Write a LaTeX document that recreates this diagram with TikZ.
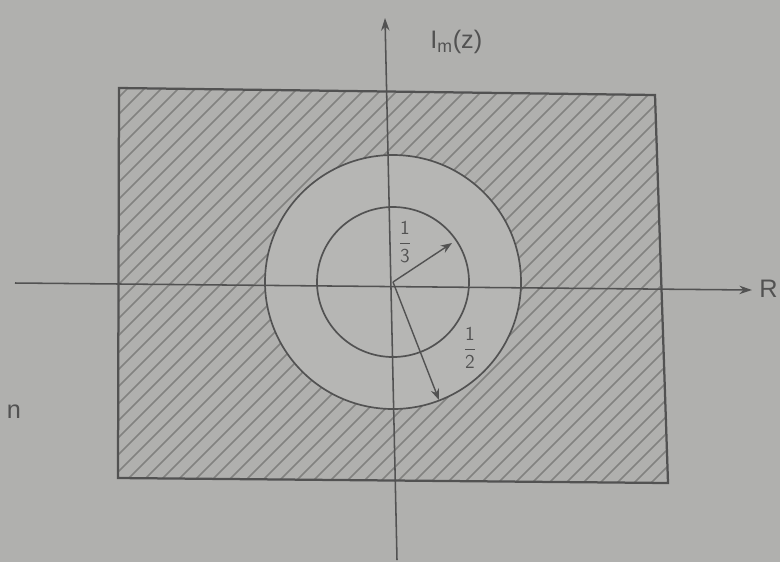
\documentclass[tikz,border=0pt]{standalone}
\usepackage{fontspec}
\setmainfont{Liberation Sans}
\usetikzlibrary{arrows.meta}
\definecolor{bg}{RGB}{176,176,174}
\definecolor{ann}{RGB}{182,182,180}
\definecolor{ink}{RGB}{82,82,82}
\definecolor{hatch}{RGB}{130,130,128}
\begin{document}
\begin{tikzpicture}[x=0.025cm,y=-0.025cm,
  axis/.style={draw=ink,line width=1.1pt,-{Stealth[length=9pt,width=6pt]}},
  radius arrow/.style={draw=ink,line width=1pt,-{Stealth[length=8pt,width=6pt]}},
  circ/.style={draw=ink,line width=1.2pt},
  lbl/.style={text=ink,font=\fontsize{14}{16}\selectfont,inner sep=0pt},
  biglbl/.style={text=ink,font=\fontsize{18}{20}\selectfont,inner sep=0pt}]
\fill[bg] (0,0) rectangle (780,562);
\useasboundingbox (0,0) rectangle (780,562);
% hatched rectangle
\coordinate (TL) at (119,88);
\coordinate (TR) at (655,95);
\coordinate (BR) at (668,483);
\coordinate (BL) at (118,478);
\begin{scope}
  \clip (TL) -- (TR) -- (BR) -- (BL) -- cycle;
  \foreach \k in {-420,-403,...,700}
    \draw[hatch,line width=1.1pt] (\k,500) -- (\k+430,70);
\end{scope}
\draw[ink,line width=1.6pt] (TL) -- (TR) -- (BR) -- (BL) -- cycle;
% circles
\coordinate (O) at (393,282);
\fill[ann] (O) circle[x radius=128,y radius=127];
\draw[circ] (O) circle[x radius=128,y radius=127];
\draw[circ] (O) circle[x radius=76,y radius=75];
% axes
\coordinate (xl) at (15,283);
\coordinate (xr) at (752,290);
\coordinate (yb) at (397,560);
\coordinate (yt) at (385,18);
\draw[axis] (xl) -- (xr);
\draw[axis] (yb) -- (yt);
\node[biglbl,anchor=east] (R) at (778,289) {R};
\node[biglbl,anchor=west] (Im) at (430,42) {I\textsubscript{m}(z)};
\node[biglbl] (n) at (14,412) {n};
% radii
\coordinate (P1) at (452,243);
\coordinate (P2) at (439,400);
\draw[radius arrow] (O) -- (P1);
\draw[radius arrow] (O) -- (P2);
\node[lbl] (f1) at (405,242) {$\displaystyle\frac{\mathsf{1}}{\mathsf{3}}$};
\node[lbl] (f2) at (470,348) {$\displaystyle\frac{\mathsf{1}}{\mathsf{2}}$};
\end{tikzpicture}
\end{document}
